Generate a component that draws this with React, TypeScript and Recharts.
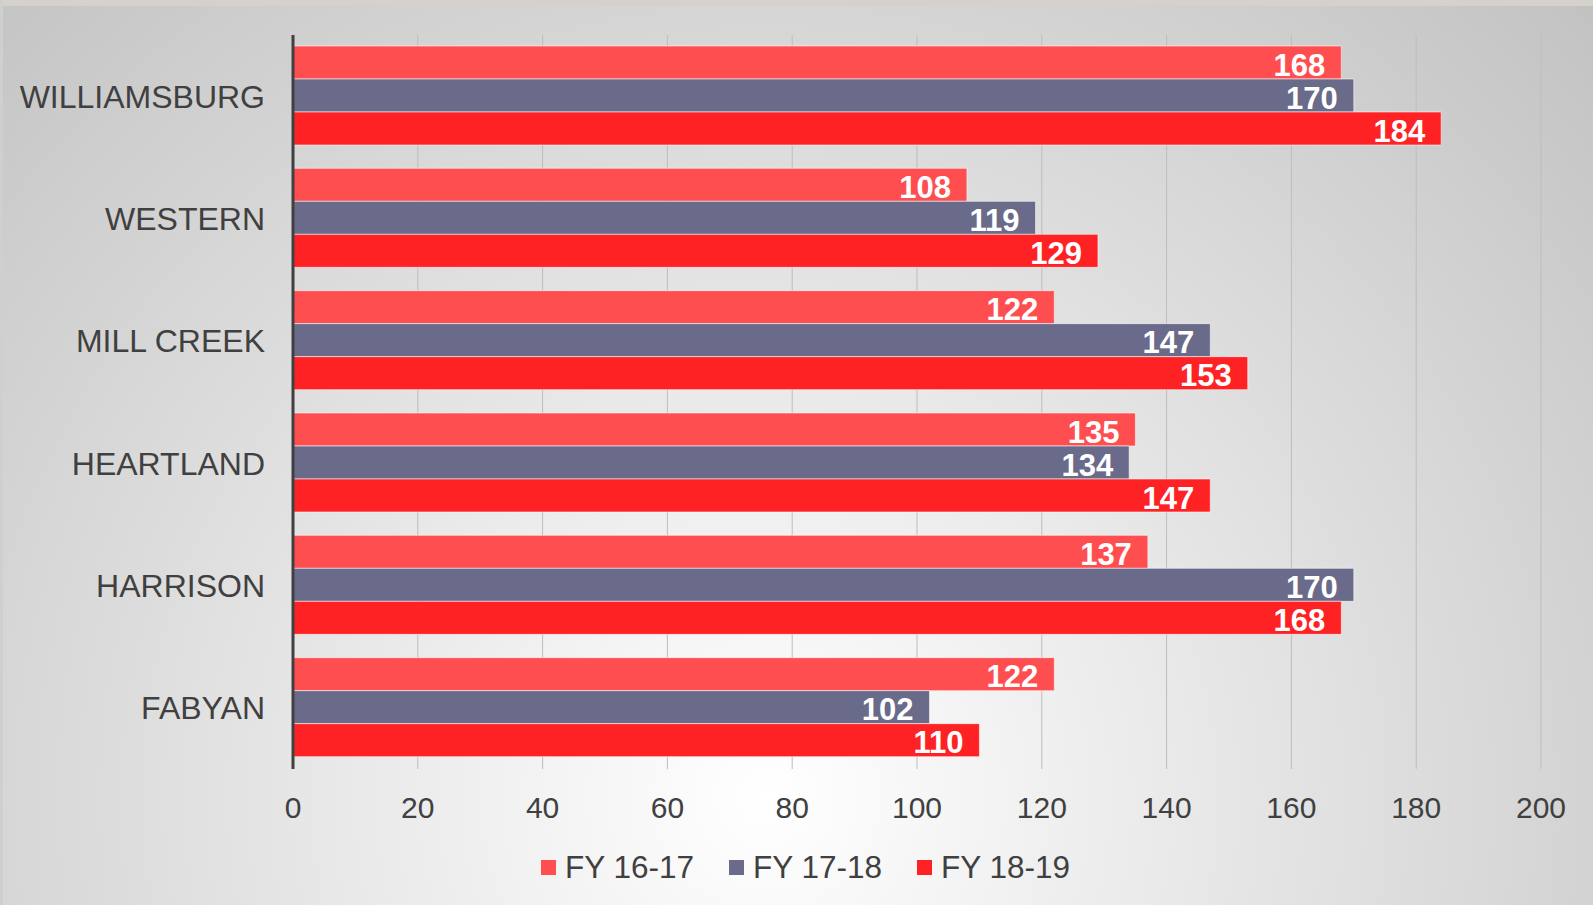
import React from 'react';
import { BarChart, Bar, XAxis, YAxis, CartesianGrid, LabelList } from 'recharts';

const schools = ['WILLIAMSBURG', 'WESTERN', 'MILL CREEK', 'HEARTLAND', 'HARRISON', 'FABYAN'];
const fy1617 = [168, 108, 122, 135, 137, 122];
const fy1718 = [170, 119, 147, 134, 170, 102];
const fy1819 = [184, 129, 153, 147, 168, 110];
const xTicks = [0, 20, 40, 60, 80, 100, 120, 140, 160, 180, 200];

const series = [
  { key: 'fy1617', name: 'FY 16-17', color: '#fe4e50' },
  { key: 'fy1718', name: 'FY 17-18', color: '#6a6a8a' },
  { key: 'fy1819', name: 'FY 18-19', color: '#fe2224' },
];

const data = schools.map((name, i) => ({
  name,
  fy1617: fy1617[i],
  fy1718: fy1718[i],
  fy1819: fy1819[i],
}));

const FONT = '"Liberation Sans", Arial, sans-serif';
const TEXT = '#404040';

export default function App() {
  return (
    <div
      style={{
        position: 'relative',
        width: 1593,
        height: 905,
        overflow: 'hidden',
        fontFamily: FONT,
        background: 'radial-gradient(circle farthest-corner at 48% 88%, #ffffff 0%, #c2c2c2 100%)',
      }}
    >
      <style>{`body { margin: 0; }`}</style>
      {/* slide edge strips */}
      <div style={{ position: 'absolute', left: 0, top: 0, width: 1593, height: 6, background: '#d5d2cb' }} />
      <div style={{ position: 'absolute', left: 0, top: 0, width: 3, height: 905, background: '#cfcfcf' }} />

      <BarChart
        width={1593}
        height={905}
        layout="vertical"
        data={data}
        margin={{ top: 35, right: 52, left: 0, bottom: 76 }}
        barCategoryGap={11}
        barGap={0}
        style={{ position: 'absolute', left: 0, top: 0 }}
      >
        <CartesianGrid horizontal={false} stroke="#bdbdbd" />
        <XAxis
          type="number"
          domain={[0, 200]}
          ticks={xTicks}
          axisLine={false}
          tickLine={false}
          tickSize={0}
          tickMargin={28}
          height={60}
          tick={{ fill: TEXT, fontSize: 30, fontFamily: FONT }}
        />
        <YAxis
          type="category"
          dataKey="name"
          width={293}
          axisLine={{ stroke: '#404040', strokeWidth: 3 }}
          tickLine={false}
          tickSize={0}
          tickMargin={28}
          tick={{ fill: TEXT, fontSize: 32, fontFamily: FONT }}
        />
        {series.map((s) => (
          <Bar
            key={s.key}
            dataKey={s.key}
            name={s.name}
            fill={s.color}
            stroke="rgba(255,255,255,0.55)"
            strokeWidth={1}
            isAnimationActive={false}
          >
            <LabelList
              dataKey={s.key}
              position="insideRight"
              offset={16}
              dy={2}
              fill="#ffffff"
              fontSize={31}
              fontWeight={700}
              fontFamily={FONT}
            />
          </Bar>
        ))}
      </BarChart>

      <div
        style={{
          position: 'absolute',
          left: 541,
          top: 848,
          height: 38,
          display: 'flex',
          alignItems: 'center',
          gap: 35,
          fontSize: 31.5,
          color: TEXT,
        }}
      >
        {series.map((s) => (
          <div key={s.key} style={{ display: 'flex', alignItems: 'center' }}>
            <span style={{ width: 15, height: 15, background: s.color, marginRight: 9, display: 'inline-block' }} />
            <span>{s.name}</span>
          </div>
        ))}
      </div>
    </div>
  );
}
